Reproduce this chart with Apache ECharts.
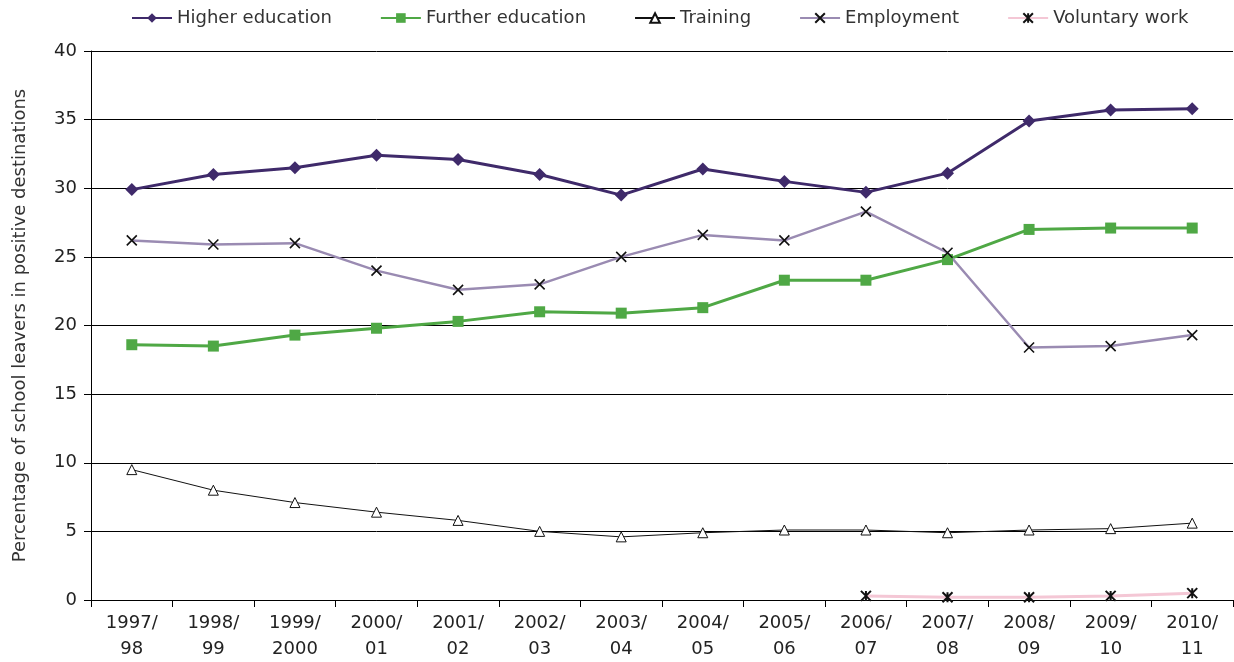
<!DOCTYPE html>
<html>
<head>
<meta charset="utf-8">
<script src="https://cdn.jsdelivr.net/npm/echarts@6/dist/echarts.min.js"></script>
<style>html,body{margin:0;padding:0;background:#fff}#c{width:1234px;height:662px}</style>
</head>
<body>
<div id="c"></div>
<script>
const categories = ['1997/\n98','1998/\n99','1999/\n2000','2000/\n01','2001/\n02','2002/\n03','2003/\n04','2004/\n05','2005/\n06','2006/\n07','2007/\n08','2008/\n09','2009/\n10','2010/\n11'];
const higherEducation = [29.9,31.0,31.5,32.4,32.1,31.0,29.5,31.4,30.5,29.7,31.1,34.9,35.7,35.8];
const furtherEducation = [18.6,18.5,19.3,19.8,20.3,21.0,20.9,21.3,23.3,23.3,24.8,27.0,27.1,27.1];
const training = [9.5,8.0,7.1,6.4,5.8,5.0,4.6,4.9,5.1,5.1,4.9,5.1,5.2,5.6];
const employment = [26.2,25.9,26.0,24.0,22.6,23.0,25.0,26.6,26.2,28.3,25.3,18.4,18.5,19.3];
const voluntaryWork = [null,null,null,null,null,null,null,null,null,0.3,0.2,0.2,0.3,0.5];
const yTicks = [0,5,10,15,20,25,30,35,40];

const font = 'DejaVu Sans';
const xMark = 'path://M0,0 L10,10 M10,0 L0,10';
const starMark = 'path://M0,0 L10,10 M10,0 L0,10 M5,0 L5,10';

const chart = echarts.init(document.getElementById('c'));
chart.setOption({
  animation: false,
  backgroundColor: '#fff',
  legend: {
    top: 4, left: 126, itemGap: 48, itemWidth: 40, itemHeight: 12,
    textStyle: {fontFamily: font, fontSize: 18, color: '#333'},
    data: ['Higher education','Further education','Training','Employment','Voluntary work']
  },
  grid: {left: 91, right: 1, top: 51, bottom: 61, containLabel: false},
  xAxis: {
    type: 'category', data: categories, boundaryGap: true,
    axisLine: {lineStyle: {color: '#000', width: 1}},
    axisTick: {show: true, alignWithLabel: false, length: 7, lineStyle: {color: '#000'}},
    axisLabel: {fontFamily: font, fontSize: 18, color: '#222', lineHeight: 26, margin: 10, interval: 0}
  },
  yAxis: {
    type: 'value', min: 0, max: 40, interval: 5,
    name: 'Percentage of school leavers in positive destinations',
    nameLocation: 'middle', nameGap: 62,
    nameTextStyle: {fontFamily: font, fontSize: 18, color: '#333'},
    axisLine: {show: true, lineStyle: {color: '#000'}},
    axisTick: {show: true, length: 7, lineStyle: {color: '#000'}},
    axisLabel: {fontFamily: font, fontSize: 18, color: '#222', margin: 14,
      formatter: v => yTicks.includes(v) ? String(v) : ''},
    splitLine: {show: true, lineStyle: {color: '#000', width: 1}}
  },
  series: [
    {name: 'Higher education', type: 'line', data: higherEducation,
     symbol: 'diamond', symbolSize: 13,
     lineStyle: {color: '#3f2a6a', width: 3}, itemStyle: {color: '#3f2a6a'}},
    {name: 'Further education', type: 'line', data: furtherEducation,
     symbol: 'rect', symbolSize: 11,
     lineStyle: {color: '#4fa845', width: 3}, itemStyle: {color: '#4fa845'}},
    {name: 'Training', type: 'line', data: training,
     symbol: 'triangle', symbolSize: 10,
     lineStyle: {color: '#111', width: 1}, itemStyle: {color: '#fff', borderColor: '#111', borderWidth: 1}},
    {name: 'Employment', type: 'line', data: employment,
     symbol: xMark, symbolSize: 10,
     lineStyle: {color: '#9a8bb2', width: 2.5}, itemStyle: {color: '#9a8bb2', borderColor: '#111', borderWidth: 1.6}},
    {name: 'Voluntary work', type: 'line', data: voluntaryWork,
     symbol: starMark, symbolSize: 10,
     lineStyle: {color: '#f4c7d5', width: 3}, itemStyle: {color: '#f4c7d5', borderColor: '#111', borderWidth: 2}}
  ]
});
</script>
</body>
</html>
